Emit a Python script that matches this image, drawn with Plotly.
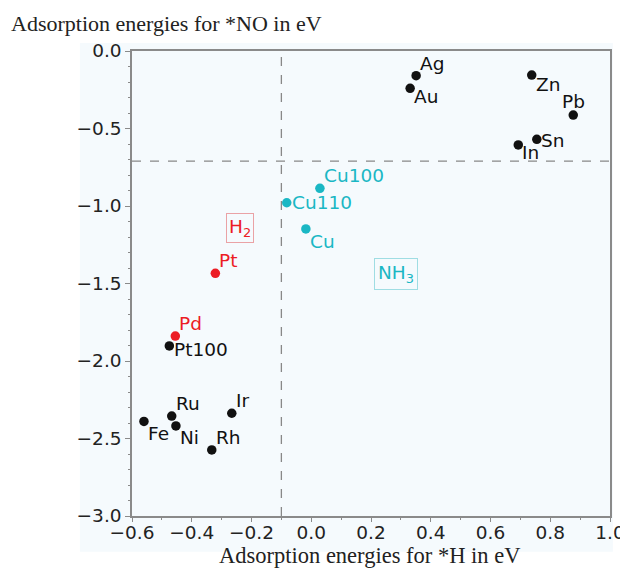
import plotly.graph_objects as go

# ---- data ----
black_names = ["Ag", "Au", "Zn", "Pb", "In", "Sn", "Pt100", "Ru", "Fe", "Ni", "Rh", "Ir"]
black_x = [0.351, 0.331, 0.738, 0.877, 0.693, 0.755, -0.475, -0.467, -0.560, -0.453, -0.333, -0.266]
black_y = [-0.159, -0.241, -0.155, -0.413, -0.606, -0.570, -1.903, -2.355, -2.390, -2.419, -2.574, -2.337]

red_names = ["Pt", "Pd"]
red_x = [-0.321, -0.455]
red_y = [-1.434, -1.839]

cyan_names = ["Cu100", "Cu110", "Cu"]
cyan_x = [0.029, -0.082, -0.018]
cyan_y = [-0.886, -0.979, -1.148]

vline_x = -0.1
hline_y = -0.71

x_ticks = [-0.6, -0.4, -0.2, 0.0, 0.2, 0.4, 0.6, 0.8, 1.0]
y_ticks = [0.0, -0.5, -1.0, -1.5, -2.0, -2.5, -3.0]

# label placement: (xanchor, yanchor, xshift, yshift)
label_pos = {
    "Ag": ("left", "bottom", 2, 0),
    "Au": ("left", "top", 2, 4),
    "Zn": ("left", "top", 2, 3),
    "Pb": ("center", "bottom", 0, 1),
    "In": ("left", "top", 2, 5),
    "Sn": ("left", "middle", 2, -1),
    "Pt100": ("left", "middle", 3, -4),
    "Ru": ("left", "bottom", 2, 0),
    "Fe": ("left", "top", 2, 0),
    "Ni": ("left", "top", 2, 1),
    "Rh": ("left", "bottom", 2, 0),
    "Ir": ("left", "bottom", 2, 0),
    "Pt": ("left", "bottom", 2, 0),
    "Pd": ("left", "bottom", 2, 0),
    "Cu100": ("left", "bottom", 2, 0),
    "Cu110": ("left", "middle", 3, 0),
    "Cu": ("left", "top", 2, 0),
}

BLACK = "#111111"
RED = "#ec1c24"
CYAN = "#1ab7c4"
FONT = "DejaVu Sans"
LSIZE = 18.5

fig = go.Figure()
for xs, ys, col in [(black_x, black_y, BLACK), (red_x, red_y, RED), (cyan_x, cyan_y, CYAN)]:
    fig.add_trace(go.Scatter(x=xs, y=ys, mode="markers",
                             marker=dict(color=col, size=9.5), showlegend=False))

annotations = []
for names, xs, ys, col in [(black_names, black_x, black_y, BLACK),
                           (red_names, red_x, red_y, RED),
                           (cyan_names, cyan_x, cyan_y, CYAN)]:
    for n, x, y in zip(names, xs, ys):
        xa, ya, dx, dy = label_pos[n]
        annotations.append(dict(x=x, y=y, text=n, showarrow=False, xanchor=xa, yanchor=ya,
                                xshift=dx, yshift=dy, font=dict(family=FONT, size=LSIZE, color=col)))

annotations.append(dict(x=-0.238, y=-1.142, text="H<sub>2</sub>", showarrow=False,
                        font=dict(family=FONT, size=LSIZE, color=RED),
                        bordercolor="#eaa2a5", borderwidth=1, borderpad=2))
annotations.append(dict(x=0.284, y=-1.439, text="NH<sub>3</sub>", showarrow=False,
                        font=dict(family=FONT, size=LSIZE, color=CYAN),
                        bordercolor="#9fdde3", borderwidth=1, borderpad=3))

annotations.append(dict(xref="paper", yref="paper", x=-0.257, y=1.0285, xanchor="left", yanchor="bottom",
                        text="Adsorption energies for *NO in eV", showarrow=False,
                        font=dict(family="Liberation Serif", size=22, color="#222")))
annotations.append(dict(xref="paper", yref="paper", x=0.497, y=-0.086, xanchor="center", yanchor="middle",
                        text="Adsorption energies for *H in eV", showarrow=False,
                        font=dict(family="Liberation Serif", size=22.5, color="#222")))

fig.add_shape(type="rect", xref="paper", yref="paper", x0=-0.109, x1=1.006, y0=-0.077, y1=1.017,
              fillcolor="#f5fafd", line=dict(width=0), layer="below")
fig.add_shape(type="line", x0=vline_x, x1=vline_x, y0=-3.0, y1=0.0,
              line=dict(color="#888", width=1.3, dash="dash"))
fig.add_shape(type="line", x0=-0.6, x1=1.0, y0=hline_y, y1=hline_y,
              line=dict(color="#888", width=1.3, dash="dash"))

axis_common = dict(showgrid=False, zeroline=False, showline=True, linecolor="#8a8a8a", linewidth=1.5,
                   mirror=True, ticks="outside", tickcolor="#8a8a8a", tickwidth=1.2,
                   tickfont=dict(family=FONT, size=18.5, color="#222"),
                   minor=dict(ticks="outside", ticklen=2, tickcolor="#8a8a8a", dtick=0.1))

fig.update_xaxes(range=[-0.6, 1.0], tickvals=x_ticks, ticklen=4, ticklabelstandoff=-5,
                 ticktext=[f"{v:.1f}".replace("-", "−") for v in x_ticks],
                 automargin=False, **axis_common)
fig.update_yaxes(range=[-3.0, 0.0], tickvals=y_ticks, ticklen=5,
                 ticktext=[f"{v:.1f}".replace("-", "−") for v in y_ticks],
                 automargin=False, **axis_common)

# page body has an 8px default margin, so the figure is sized to fit the window
fig.update_layout(width=620, height=566, paper_bgcolor="white", plot_bgcolor="#f5fafd",
                  margin=dict(l=124, r=18, t=43, b=58), annotations=annotations)

fig.write_html("out.html")
